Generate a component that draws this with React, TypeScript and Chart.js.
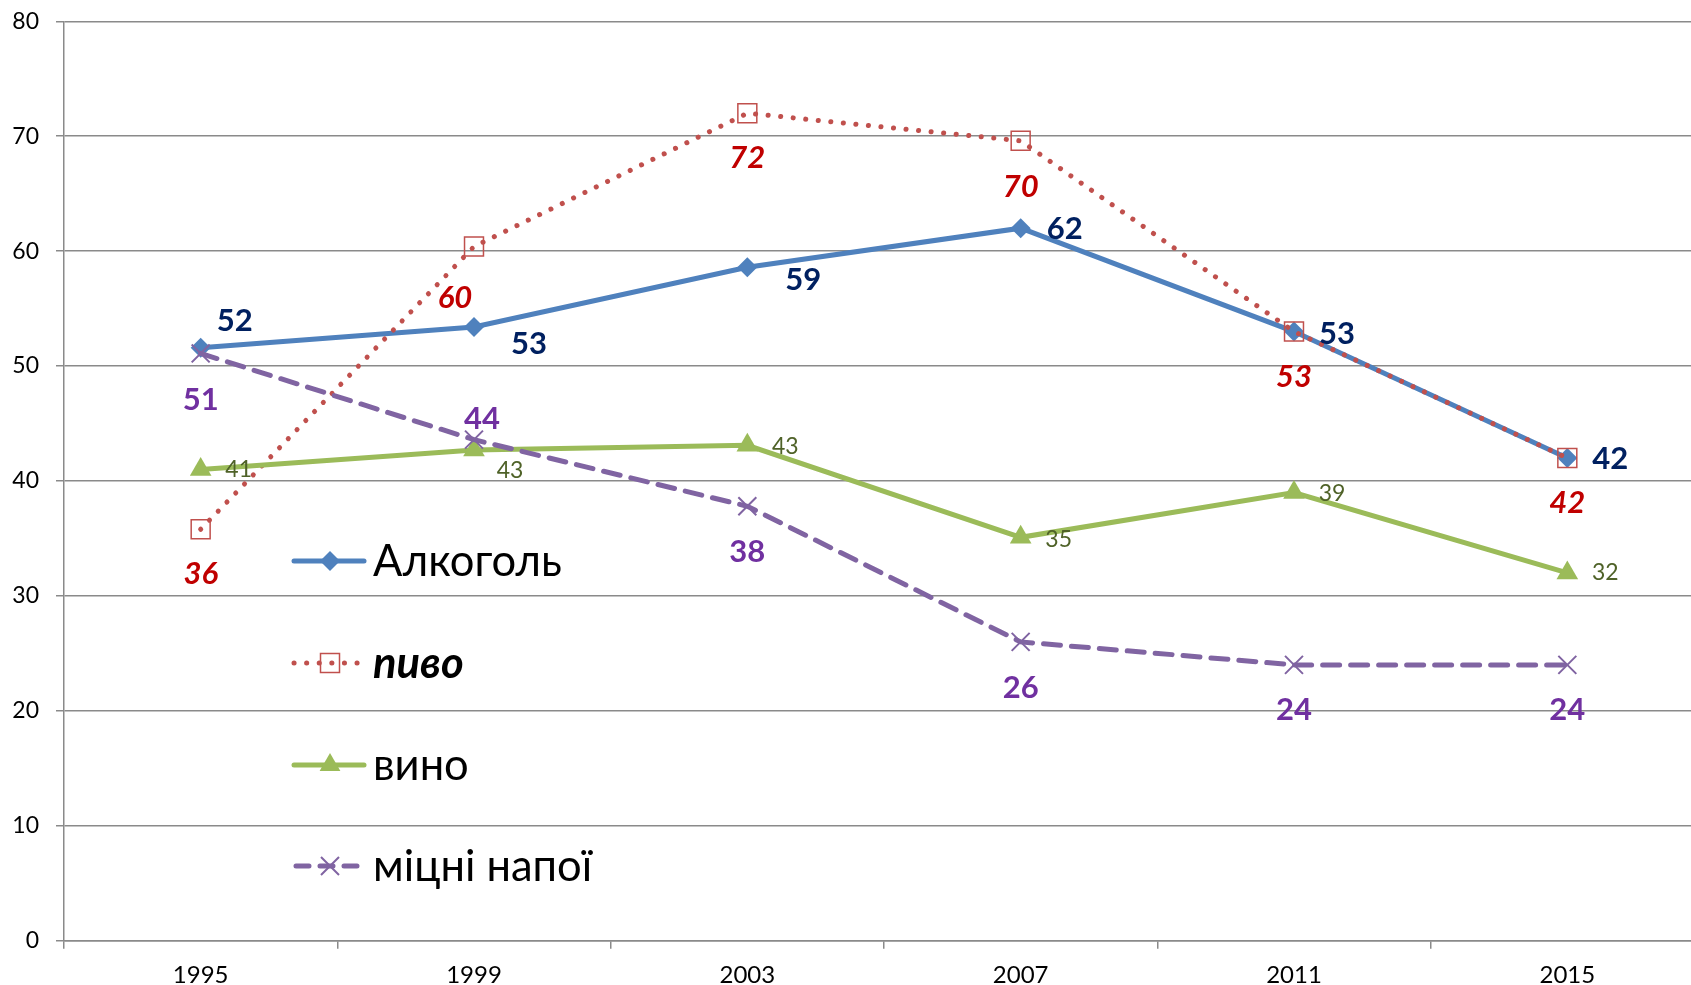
import React, { useEffect, useRef } from 'react';
import { Chart, registerables } from 'chart.js';

Chart.register(...registerables);

// ---- data ----
const years = ['1995', '1999', '2003', '2007', '2011', '2015'];
const alcohol = [51.6, 53.4, 58.6, 62.0, 53.0, 42.0];
const beer = [35.8, 60.4, 72.0, 69.6, 53.0, 42.0];
const wine = [41.0, 42.7, 43.1, 35.1, 39.0, 32.0];
const spirits = [51.1, 43.6, 37.8, 26.0, 24.0, 24.0];
const yTickValues = [0, 10, 20, 30, 40, 50, 60, 70, 80];
const seriesNames = ['Алкоголь', 'пиво', 'вино', 'міцні напої'];

// ---- styling ----
const FONT = 'Lato, "Open Sans", sans-serif';
const GRID = '#8a8a8a';
const colors = ['#4F81BD', '#C0504D', '#9BBB59', '#8064A2'];
const labelColors = ['#002060', '#C00000', '#4F6228', '#7030A0'];
const labelFonts = [
  `bold 31px ${FONT}`,
  `italic bold 31px ${FONT}`,
  `23px ${FONT}`,
  `bold 31px ${FONT}`,
];
// label offsets (px) relative to each point
const labelOffsets = [
  [[34, -27], [55, 17], [56, 13], [44, 1], [43, 2], [43, 1]],
  [[0, 45], [-19, 51], [0, 45], [0, 46], [0, 45], [0, 45]],
  [[38, 0], [36, 21], [38, 1], [38, 2], [38, 1], [38, 0]],
  [[0, 47], [8, -21], [0, 46], [0, 46], [0, 45], [0, 45]],
];

const valueLabels = {
  id: 'valueLabels',
  afterDatasetsDraw(chart: any) {
    const ctx = chart.ctx;
    chart.data.datasets.forEach((ds: any, di: number) => {
      const meta = chart.getDatasetMeta(di);
      meta.data.forEach((pt: any, i: number) => {
        const v = ds.data[i];
        const [dx, dy] = labelOffsets[di][i];
        ctx.save();
        ctx.font = labelFonts[di];
        ctx.fillStyle = labelColors[di];
        ctx.textAlign = 'center';
        ctx.textBaseline = 'middle';
        ctx.fillText(String(Math.round(v)), pt.x + dx, pt.y + dy);
        ctx.restore();
      });
    });
  },
};

const customLegend = {
  id: 'customLegend',
  afterDraw(chart: any) {
    const ctx = chart.ctx;
    const x0 = 294;
    const x1 = 364;
    const xm = 330;
    const textX = 373;
    const rows = [561, 663, 765, 866];
    const fontSize = 43.5;
    rows.forEach((y, i) => {
      ctx.save();
      ctx.strokeStyle = colors[i];
      ctx.fillStyle = colors[i];
      ctx.lineCap = 'round';
      ctx.lineWidth = 5;
      if (i === 1) ctx.setLineDash([0.1, 12.5]);
      if (i === 3) ctx.setLineDash([13, 11]);
      ctx.beginPath();
      ctx.moveTo(i === 3 ? 296 : x0, y);
      ctx.lineTo(x1, y);
      ctx.stroke();
      ctx.setLineDash([]);
      if (i === 0) {
        const r = 10;
        ctx.beginPath();
        ctx.moveTo(xm, y - r);
        ctx.lineTo(xm + r, y);
        ctx.lineTo(xm, y + r);
        ctx.lineTo(xm - r, y);
        ctx.closePath();
        ctx.fill();
      } else if (i === 1) {
        ctx.lineWidth = 1.5;
        ctx.strokeRect(xm - 9.5, y - 9.5, 19, 19);
      } else if (i === 2) {
        const r = 12;
        ctx.beginPath();
        ctx.moveTo(xm, y - r);
        ctx.lineTo(xm + r * 0.866, y + r / 2);
        ctx.lineTo(xm - r * 0.866, y + r / 2);
        ctx.closePath();
        ctx.fill();
      } else {
        const a = 9;
        ctx.lineWidth = 2;
        ctx.lineCap = 'butt';
        ctx.beginPath();
        ctx.moveTo(xm - a, y - a);
        ctx.lineTo(xm + a, y + a);
        ctx.moveTo(xm - a, y + a);
        ctx.lineTo(xm + a, y - a);
        ctx.stroke();
      }
      ctx.fillStyle = '#000';
      ctx.font = i === 1 ? `italic bold ${fontSize}px ${FONT}` : `${fontSize}px ${FONT}`;
      ctx.textAlign = 'left';
      ctx.textBaseline = 'alphabetic';
      ctx.fillText(seriesNames[i], textX, y + 41 * 0.358);
      ctx.restore();
    });
  },
};

export default function App() {
  const canvasRef = useRef<HTMLCanvasElement | null>(null);

  useEffect(() => {
    if (!canvasRef.current) return;
    const chart = new Chart(canvasRef.current, {
      type: 'line',
      data: {
        labels: years,
        datasets: [
          {
            label: seriesNames[0],
            data: alcohol,
            borderColor: colors[0],
            backgroundColor: colors[0],
            borderWidth: 5,
            pointStyle: 'rectRot',
            pointRadius: 10,
            pointBackgroundColor: colors[0],
            pointBorderColor: colors[0],
            pointBorderWidth: 0,
            tension: 0,
            order: 4,
          },
          {
            label: seriesNames[1],
            data: beer,
            borderColor: colors[1],
            backgroundColor: 'transparent',
            borderWidth: 5,
            borderDash: [0.1, 12.5],
            borderCapStyle: 'round',
            pointStyle: 'rect',
            pointRadius: 13.4,
            pointBackgroundColor: 'rgba(0,0,0,0)',
            pointBorderColor: colors[1],
            pointBorderWidth: 1.5,
            tension: 0,
            order: 3,
          },
          {
            label: seriesNames[2],
            data: wine,
            borderColor: colors[2],
            backgroundColor: colors[2],
            borderWidth: 5,
            pointStyle: 'triangle',
            pointRadius: 12.5,
            pointBackgroundColor: colors[2],
            pointBorderColor: colors[2],
            pointBorderWidth: 0,
            tension: 0,
            order: 2,
          },
          {
            label: seriesNames[3],
            data: spirits,
            borderColor: colors[3],
            backgroundColor: colors[3],
            borderWidth: 5,
            borderDash: [17, 11],
            borderCapStyle: 'round',
            pointStyle: 'crossRot',
            pointRadius: 12.7,
            pointBorderColor: colors[3],
            pointBorderWidth: 2,
            tension: 0,
            order: 1,
          },
        ],
      },
      options: {
        animation: false,
        responsive: true,
        maintainAspectRatio: false,
        layout: { autoPadding: false, padding: { top: 21.3, right: 0, bottom: 0, left: 0 } },
        plugins: {
          legend: { display: false },
          tooltip: { enabled: false },
        },
        scales: {
          x: {
            type: 'category',
            offset: true,
            grid: {
              display: true,
              drawOnChartArea: false,
              drawTicks: true,
              tickLength: 8,
              color: GRID,
              lineWidth: 1.5,
              offset: true,
            },
            border: { display: true, color: GRID, width: 1.5 },
            ticks: {
              color: '#000',
              font: { family: FONT, size: 24 },
              padding: 12,
              maxRotation: 0,
              autoSkip: false,
            },
            afterFit: (s: any) => {
              s.height = 44.3;
              s.paddingLeft = 0;
              s.paddingRight = 0;
            },
          },
          y: {
            min: 0,
            max: 80,
            afterBuildTicks: (s: any) => {
              s.ticks = yTickValues.map((v) => ({ value: v }));
            },
            ticks: {
              color: '#000',
              font: { family: FONT, size: 23 },
              padding: 17,
            },
            grid: {
              color: GRID,
              lineWidth: 1.5,
              tickLength: 8,
              drawTicks: true,
            },
            border: { display: true, color: GRID, width: 1.5 },
            afterFit: (s: any) => {
              s.width = 64;
              s.paddingTop = 0;
              s.paddingBottom = 0;
            },
          },
        },
      },
      plugins: [valueLabels, customLegend],
    } as any);
    return () => chart.destroy();
  }, []);

  return (
    <div
      style={{
        position: 'fixed',
        left: 0,
        top: 0,
        width: '1704px',
        height: '985px',
        background: '#fff',
      }}
    >
      <canvas ref={canvasRef} />
    </div>
  );
}
